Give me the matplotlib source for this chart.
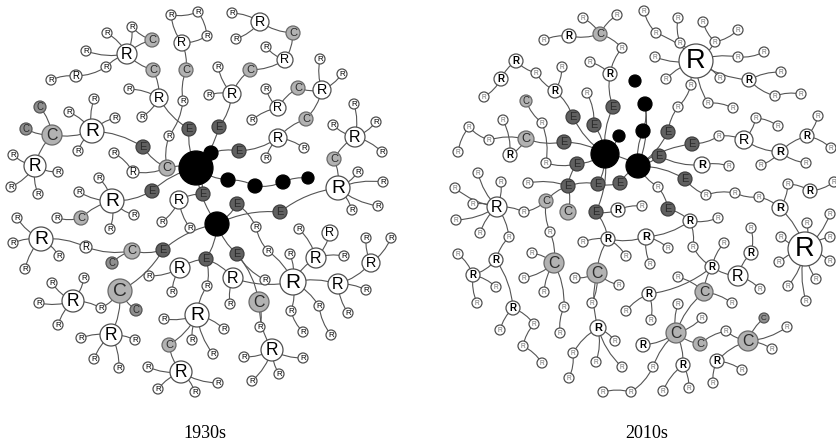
import matplotlib
matplotlib.use('Agg')
import matplotlib.pyplot as plt
from matplotlib import font_manager
from matplotlib.patches import Circle, FancyArrowPatch

# each node: name, kind, radius(px), x, y, parent
# kinds: H = hub (black), E = dark grey, C = light grey, c = small mid grey C, R = white
nodes_1930 = [
    ("H1", "H", 17, 196, 168, None), ("h1", "H", 7, 211, 153, "H1"),
    ("b1", "H", 7, 228, 180, "H1"), ("b2", "H", 7, 255, 186, "b1"),
    ("b3", "H", 7, 283, 182, "b2"), ("b4", "H", 6, 308, 178, "b3"),
    ("H2", "H", 12, 217, 224, "H1"),
    ("e1", "E", 7, 189, 129, "H1"), ("e2", "E", 7, 219, 127, "H1"),
    ("e3", "E", 7, 239, 151, "h1"), ("c1", "C", 8, 167, 168, "H1"),
    ("e4", "E", 7, 143, 147, "c1"), ("e5", "E", 7, 152, 191, "H1"),
    ("e6", "E", 7, 203, 194, "H1"), ("e7", "E", 7, 237, 204, "H2"),
    ("e8", "E", 7, 280, 212, "H2"), ("e9", "E", 7, 163, 250, "H2"),
    ("e10", "E", 7, 206, 259, "H2"), ("e11", "E", 7, 237, 254, "H2"),
    ("r159_98", "R", 9, 159, 98, "e1"), ("r129_89", "R", 5, 129, 89, "r159_98"),
    ("r142_117", "R", 5, 142, 117, "r159_98"), ("c3", "C", 7, 153, 70, "r159_98"),
    ("r127_54", "R", 10, 127, 54, "c3"), ("r132_27", "R", 5, 132, 27, "r127_54"),
    ("c2", "C", 7, 152, 40, "r127_54"), ("r107_33", "R", 5, 107, 33, "r127_54"),
    ("r86_51", "R", 5, 86, 51, "r127_54"), ("r106_67", "R", 5, 106, 67, "r127_54"),
    ("r76_76", "R", 6, 76, 76, "r106_67"), ("r51_80", "R", 5, 51, 80, "r76_76"),
    ("r169_136", "R", 5, 169, 136, "c1"), ("r183_101", "R", 5, 183, 101, "r169_136"),
    ("c4", "C", 7, 186, 70, "r183_101"), ("r182_43", "R", 8, 182, 43, "c4"),
    ("r171_15", "R", 5, 171, 15, "r182_43"), ("r198_12", "R", 5, 198, 12, "r171_15"),
    ("r207_36", "R", 5, 207, 36, "r198_12"),
    ("r232_94", "R", 9, 232, 94, "e2"), ("r218_67", "R", 5, 218, 67, "r232_94"),
    ("r209_95", "R", 5, 209, 95, "r232_94"), ("c5", "C", 7, 250, 70, "r232_94"),
    ("r285_60", "R", 8, 285, 60, "c5"), ("r266_47", "R", 5, 266, 47, "r285_60"),
    ("c6", "C", 7, 293, 33, "r285_60"), ("r260_22", "R", 9, 260, 22, "c6"),
    ("r232_13", "R", 5, 232, 13, "r260_22"), ("r236_39", "R", 5, 236, 39, "r260_22"),
    ("r278_138", "R", 9, 278, 138, "e3"), ("r304_148", "R", 5, 304, 148, "r278_138"),
    ("r266_158", "R", 5, 266, 158, "r278_138"), ("c8", "C", 7, 306, 119, "r278_138"),
    ("r322_90", "R", 9, 322, 90, "c8"), ("r320_59", "R", 5, 320, 59, "r322_90"),
    ("r342_74", "R", 5, 342, 74, "r322_90"), ("c7", "C", 7, 298, 88, "r322_90"),
    ("r278_108", "R", 8, 278, 108, "c7"), ("r266_89", "R", 5, 266, 89, "r278_108"),
    ("r252_120", "R", 5, 252, 120, "r278_108"),
    ("r338_188", "R", 12, 338, 188, "e8"), ("r358_172", "R", 5, 358, 172, "r338_188"),
    ("r383_182", "R", 5, 383, 182, "r338_188"), ("r378_206", "R", 5, 378, 206, "r338_188"),
    ("r352_210", "R", 5, 352, 210, "r338_188"), ("c9", "C", 7, 334, 159, "r338_188"),
    ("r355_137", "R", 10, 355, 137, "c9"), ("r354_104", "R", 5, 354, 104, "r355_137"),
    ("r333_125", "R", 5, 333, 125, "r355_137"), ("r376_122", "R", 5, 376, 122, "r355_137"),
    ("r382_152", "R", 5, 382, 152, "r355_137"),
    ("r92_131", "R", 12, 92, 131, "e4"), ("r94_99", "R", 5, 94, 99, "r92_131"),
    ("r69_112", "R", 5, 69, 112, "r92_131"), ("r115_118", "R", 5, 115, 118, "r92_131"),
    ("r78_151", "R", 5, 78, 151, "r92_131"), ("c10", "C", 10, 52, 135, "r92_131"),
    ("c10a", "c", 6, 40, 107, "c10"), ("c10b", "c", 6, 26, 129, "c10"),
    ("r35_166", "R", 11, 35, 166, "c10"), ("r13_155", "R", 5, 13, 155, "r35_166"),
    ("r58_172", "R", 5, 58, 172, "r35_166"), ("r11_187", "R", 5, 11, 187, "r35_166"),
    ("r38_194", "R", 5, 38, 194, "r35_166"),
    ("r133_172", "R", 6, 133, 172, "c1"), ("r114_153", "R", 5, 114, 153, "r133_172"),
    ("r112_201", "R", 12, 112, 201, "e5"), ("r99_178", "R", 5, 99, 178, "r112_201"),
    ("r79_192", "R", 5, 79, 192, "r112_201"), ("r134_215", "R", 5, 134, 215, "r112_201"),
    ("r110_229", "R", 5, 110, 229, "r112_201"), ("c15", "C", 7, 81, 218, "r112_201"),
    ("r57_218", "R", 5, 57, 218, "c15"),
    ("r179_200", "R", 9, 179, 200, "e6"), ("r162_222", "R", 5, 162, 222, "r179_200"),
    ("r190_228", "R", 5, 190, 228, "r179_200"),
    ("c11", "C", 8, 132, 251, "e9"), ("c11a", "c", 6, 112, 263, "c11"),
    ("r86_247", "R", 6, 86, 247, "c11"), ("r41_239", "R", 12, 41, 239, "r86_247"),
    ("r17_218", "R", 5, 17, 218, "r41_239"), ("r13_243", "R", 5, 13, 243, "r41_239"),
    ("r59_256", "R", 5, 59, 256, "r41_239"), ("r25_269", "R", 5, 25, 269, "r41_239"),
    ("c12", "C", 12, 120, 291, "e9"), ("c12a", "c", 6, 136, 310, "c12"),
    ("r101_308", "R", 5, 101, 308, "c12"), ("r73_301", "R", 11, 73, 301, "r101_308"),
    ("r52_283", "R", 5, 52, 283, "r73_301"), ("r84_278", "R", 5, 84, 278, "r73_301"),
    ("r39_303", "R", 5, 39, 303, "r73_301"), ("r58_325", "R", 5, 58, 325, "r73_301"),
    ("r111_335", "R", 11, 111, 335, "c12"), ("r81_338", "R", 5, 81, 338, "r111_335"),
    ("r135_340", "R", 5, 135, 340, "r111_335"), ("r94_359", "R", 5, 94, 359, "r111_335"),
    ("r119_368", "R", 5, 119, 368, "r111_335"),
    ("r180_268", "R", 10, 180, 268, "e10"), ("r149_276", "R", 5, 149, 276, "r180_268"),
    ("r172_292", "R", 5, 172, 292, "r180_268"), ("r207_286", "R", 5, 207, 286, "e10"),
    ("r197_315", "R", 12, 197, 315, "r207_286"), ("r164_319", "R", 5, 164, 319, "r197_315"),
    ("r192_340", "R", 5, 192, 340, "r197_315"), ("r224_329", "R", 5, 224, 329, "r197_315"),
    ("r213_354", "R", 5, 213, 354, "r197_315"), ("c14", "C", 7, 169, 345, "r197_315"),
    ("r181_372", "R", 11, 181, 372, "c14"), ("r148_367", "R", 5, 148, 367, "r181_372"),
    ("r158_389", "R", 5, 158, 389, "r181_372"), ("r195_392", "R", 5, 195, 392, "r181_372"),
    ("r218_383", "R", 5, 218, 383, "r181_372"),
    ("r233_278", "R", 10, 233, 278, "e10"), ("r230_304", "R", 5, 230, 304, "r233_278"),
    ("c13", "C", 10, 259, 302, "e11"), ("r265_280", "R", 5, 265, 280, "e11"),
    ("r260_327", "R", 5, 260, 327, "c13"), ("r272_350", "R", 11, 272, 350, "c13"),
    ("r244_357", "R", 5, 244, 357, "r272_350"), ("r303_358", "R", 5, 303, 358, "r272_350"),
    ("r252_381", "R", 5, 252, 381, "r272_350"), ("r279_374", "R", 5, 279, 374, "r272_350"),
    ("r256_227", "R", 5, 256, 227, "e7"), ("r268_251", "R", 5, 268, 251, "r256_227"),
    ("r293_282", "R", 13, 293, 282, "r268_251"), ("r290_254", "R", 5, 290, 254, "r293_282"),
    ("r291_311", "R", 5, 291, 311, "r293_282"), ("r303_332", "R", 5, 303, 332, "r291_311"),
    ("r319_306", "R", 5, 319, 306, "r293_282"), ("r331_335", "R", 5, 331, 335, "r319_306"),
    ("r316_258", "R", 10, 316, 258, "r293_282"), ("r299_229", "R", 5, 299, 229, "r316_258"),
    ("r344_256", "R", 5, 344, 256, "r316_258"), ("r330_233", "R", 8, 330, 233, "r316_258"),
    ("r338_284", "R", 10, 338, 284, "r293_282"), ("r371_263", "R", 9, 371, 263, "r338_284"),
    ("r366_238", "R", 5, 366, 238, "r371_263"), ("r391_238", "R", 5, 391, 238, "r371_263"),
    ("r366_290", "R", 5, 366, 290, "r338_284"), ("r348_313", "R", 5, 348, 313, "r338_284"),
]
extra_1930 = [("r233_278", "r293_282"), ("c2", "r132_27"), ("r182_43", "r207_36")]

nodes_2010 = [
    ("HA", "H", 14, 605, 154, None), ("HB", "H", 12, 638, 166, "HA"),
    ("b1", "H", 6, 619, 136, "HA"), ("b2", "H", 7, 643, 131, "HB"),
    ("b3", "H", 7, 645, 104, "b2"), ("b4", "H", 6, 635, 81, None),
    ("e1", "E", 7, 573, 117, "HA"), ("e2", "E", 7, 594, 125, "HA"),
    ("e3", "E", 7, 613, 107, "HA"), ("e4", "E", 7, 564, 142, "HA"),
    ("e5", "E", 7, 577, 164, "HA"), ("e6", "E", 7, 568, 186, "e5"),
    ("e7", "E", 7, 598, 184, "HA"), ("e8", "E", 7, 620, 183, "HB"),
    ("e9", "E", 7, 596, 212, "HA"), ("e10", "E", 7, 668, 132, "HB"),
    ("e11", "E", 7, 692, 144, "HB"), ("e12", "E", 7, 659, 156, "HB"),
    ("e13", "E", 7, 685, 179, "HB"), ("r658_187", "R", 5, 658, 187, "HB"),
    ("e14", "E", 7, 668, 209, "r658_187"),
    ("r555_91", "R", 7, 555, 91, "e1"), ("r536_73", "R", 5, 536, 73, "r555_91"),
    ("r562_67", "R", 5, 562, 67, "r555_91"), ("r516_61", "R", 7, 516, 61, "r536_73"),
    ("r501_79", "R", 7, 501, 79, "r516_61"), ("r484_97", "R", 5, 484, 97, "r501_79"),
    ("r587_93", "R", 5, 587, 93, "e2"), ("r610_74", "R", 7, 610, 74, "e3"),
    ("r590_62", "R", 5, 590, 62, "r610_74"), ("r622_48", "R", 5, 622, 48, "r610_74"),
    ("c1", "C", 7, 600, 34, "r622_48"), ("r617_15", "R", 5, 617, 15, "c1"),
    ("r583_18", "R", 5, 583, 18, "c1"), ("r569_36", "R", 7, 569, 36, "c1"),
    ("r544_40", "R", 5, 544, 40, "r569_36"),
    ("c2", "C", 8, 526, 139, "e4"), ("r489_140", "R", 5, 489, 140, "c2"),
    ("r469_127", "R", 5, 469, 127, "r489_140"), ("r458_152", "R", 5, 458, 152, "r469_127"),
    ("r510_155", "R", 7, 510, 155, "c2"), ("r503_120", "R", 5, 503, 120, "r510_155"),
    ("r546_163", "R", 5, 546, 163, "e5"), ("r542_123", "R", 5, 542, 123, "r546_163"),
    ("c3", "C", 6, 526, 101, "r542_123"),
    ("c4", "C", 7, 546, 201, "e6"), ("c5", "C", 8, 568, 212, "e6"),
    ("r528_183", "R", 5, 528, 183, "e6"), ("r524_212", "R", 5, 524, 212, "c4"),
    ("r497_207", "R", 10, 497, 207, "r524_212"), ("r478_173", "R", 5, 478, 173, "r497_207"),
    ("r501_182", "R", 5, 501, 182, "r497_207"), ("r455_188", "R", 5, 455, 188, "r497_207"),
    ("r473_204", "R", 5, 473, 204, "r497_207"), ("r456_220", "R", 5, 456, 220, "r497_207"),
    ("r480_233", "R", 5, 480, 233, "r497_207"), ("r509_237", "R", 5, 509, 237, "r497_207"),
    ("r496_260", "R", 7, 496, 260, "r509_237"), ("r473_275", "R", 7, 473, 275, "r496_260"),
    ("r458_254", "R", 5, 458, 254, "r473_275"), ("r496_287", "R", 5, 496, 287, "r473_275"),
    ("r477_303", "R", 5, 477, 303, "r473_275"), ("r513_308", "R", 7, 513, 308, "r496_260"),
    ("r500_330", "R", 5, 500, 330, "r513_308"), ("r534_324", "R", 5, 534, 324, "r513_308"),
    ("r523_346", "R", 5, 523, 346, "r534_324"), ("r542_363", "R", 5, 542, 363, "r523_346"),
    ("r550_232", "R", 5, 550, 232, "c4"), ("c6", "C", 10, 554, 263, "r550_232"),
    ("r532_253", "R", 5, 532, 253, "c6"), ("r524_278", "R", 5, 524, 278, "c6"),
    ("r544_292", "R", 5, 544, 292, "c6"), ("r564_307", "R", 5, 564, 307, "c6"),
    ("r560_333", "R", 5, 560, 333, "r564_307"),
    ("r608_239", "R", 7, 608, 239, "e9"), ("r618_210", "R", 7, 618, 210, "e9"),
    ("r642_206", "R", 5, 642, 206, "r618_210"), ("r583_242", "R", 5, 583, 242, "r608_239"),
    ("r626_256", "R", 5, 626, 256, "r608_239"), ("c7", "C", 10, 597, 273, "r608_239"),
    ("r575_278", "R", 5, 575, 278, "c7"), ("r619_285", "R", 5, 619, 285, "c7"),
    ("r592_303", "R", 5, 592, 303, "c7"), ("r598_328", "R", 8, 598, 328, "c7"),
    ("r615_341", "R", 5, 615, 341, "r598_328"), ("r573_353", "R", 5, 573, 353, "r598_328"),
    ("r596_362", "R", 5, 596, 362, "r598_328"), ("r622_367", "R", 5, 622, 367, "r598_328"),
    ("r569_378", "R", 5, 569, 378, "r573_353"),
    ("r646_237", "R", 8, 646, 237, "r608_239"), ("r668_248", "R", 5, 668, 248, "r646_237"),
    ("r650_264", "R", 5, 650, 264, "r646_237"),
    ("r690_221", "R", 7, 690, 221, "e14"), ("r718_218", "R", 5, 718, 218, "r690_221"),
    ("r693_247", "R", 5, 693, 247, "r690_221"), ("r712_267", "R", 7, 712, 267, "r693_247"),
    ("r724_243", "R", 5, 724, 243, "r712_267"), ("r738_276", "R", 10, 738, 276, "r712_267"),
    ("r751_253", "R", 7, 751, 253, "r738_276"), ("r751_228", "R", 5, 751, 228, "r751_253"),
    ("r760_289", "R", 5, 760, 289, "r738_276"),
    ("c8", "C", 9, 704, 292, "r712_267"), ("r732_303", "R", 5, 732, 303, "c8"),
    ("r678_277", "R", 5, 678, 277, "c8"), ("r649_294", "R", 7, 649, 294, "r712_267"),
    ("r626_311", "R", 5, 626, 311, "r649_294"), ("r651_320", "R", 5, 651, 320, "r649_294"),
    ("c9", "C", 10, 676, 333, "c8"), ("r678_304", "R", 5, 678, 304, "c9"),
    ("r702_318", "R", 5, 702, 318, "c9"), ("r643_345", "R", 7, 643, 345, "c9"),
    ("r653_367", "R", 5, 653, 367, "c9"), ("r631_392", "R", 5, 631, 392, "r653_367"),
    ("r603_392", "R", 5, 603, 392, "r631_392"), ("r683_365", "R", 7, 683, 365, "c9"),
    ("r663_391", "R", 5, 663, 391, "r683_365"), ("r689_388", "R", 5, 689, 388, "r683_365"),
    ("c10", "C", 7, 700, 344, "c9"), ("r726_331", "R", 5, 726, 331, "c10"),
    ("c11", "C", 10, 748, 341, "r726_331"), ("c12", "c", 5, 764, 318, "c11"),
    ("r787_327", "R", 5, 787, 327, "c11"), ("r772_349", "R", 5, 772, 349, "c11"),
    ("r717_361", "R", 7, 717, 361, "c11"), ("r742_370", "R", 5, 742, 370, "r717_361"),
    ("r713_383", "R", 5, 713, 383, "r717_361"),
    ("r678_107", "R", 5, 678, 107, "e10"), ("r691_85", "R", 5, 691, 85, "r678_107"),
    ("R696", "R", 17, 696, 61, "r691_85"),
    ("r656_33", "R", 5, 656, 33, "R696"), ("r644_11", "R", 5, 644, 11, "r656_33"),
    ("r680_43", "R", 5, 680, 43, "R696"), ("r678_18", "R", 5, 678, 18, "r680_43"),
    ("r715_42", "R", 5, 715, 42, "R696"), ("r703_22", "R", 5, 703, 22, "r715_42"),
    ("r738_30", "R", 5, 738, 30, "r715_42"), ("r738_57", "R", 5, 738, 57, "R696"),
    ("r764_52", "R", 5, 764, 52, "r738_57"), ("r655_57", "R", 5, 655, 57, "R696"),
    ("r666_79", "R", 5, 666, 79, "R696"), ("r720_78", "R", 5, 720, 78, "R696"),
    ("r749_80", "R", 7, 749, 80, "R696"), ("r781_72", "R", 5, 781, 72, "r749_80"),
    ("r775_96", "R", 5, 775, 96, "r749_80"), ("r801_94", "R", 5, 801, 94, "r775_96"),
    ("r708_103", "R", 5, 708, 103, "R696"), ("r733_108", "R", 5, 733, 108, "r708_103"),
    ("r719_136", "R", 5, 719, 136, "e11"), ("r744_140", "R", 9, 744, 140, "r719_136"),
    ("r756_118", "R", 5, 756, 118, "r744_140"), ("r778_126", "R", 5, 778, 126, "r756_118"),
    ("r780_152", "R", 8, 780, 152, "r744_140"), ("r761_165", "R", 5, 761, 165, "r780_152"),
    ("r806_163", "R", 5, 806, 163, "r780_152"), ("r807_136", "R", 7, 807, 136, "r780_152"),
    ("r818_116", "R", 5, 818, 116, "r807_136"), ("r831_148", "R", 5, 831, 148, "r807_136"),
    ("r702_165", "R", 8, 702, 165, "e12"), ("r729_166", "R", 5, 729, 166, "r702_165"),
    ("r706_195", "R", 5, 706, 195, "e13"), ("r735_193", "R", 5, 735, 193, "r706_195"),
    ("r759_197", "R", 5, 759, 197, "r735_193"), ("r780_208", "R", 8, 780, 208, "r759_197"),
    ("r788_184", "R", 5, 788, 184, "r780_208"), ("r810_191", "R", 7, 810, 191, "r788_184"),
    ("r834_182", "R", 5, 834, 182, "r810_191"),
    ("R805", "R", 17, 805, 249, "r780_208"), ("r807_223", "R", 5, 807, 223, "R805"),
    ("r781_237", "R", 5, 781, 237, "R805"), ("r830_214", "R", 5, 830, 214, "R805"),
    ("r830_237", "R", 5, 830, 237, "R805"), ("r779_262", "R", 5, 779, 262, "R805"),
    ("r830_261", "R", 5, 830, 261, "R805"), ("r816_279", "R", 5, 816, 279, "R805"),
    ("r788_286", "R", 5, 788, 286, "R805"), ("r806_301", "R", 5, 806, 301, "R805"),
]
extra_2010 = [("r646_237", "r690_221"), ("b3", "HB"), ("e7", "e8"), ("e6", "e7")]

labels = ["1930s", "2010s"]
label_x = [205, 647]
label_y = [434, 434]

fill = {"H": "black", "E": "#606060", "C": "#b2b2b2", "c": "#8f8f8f", "R": "white"}
edge_col = {"H": "black", "E": "#404040", "C": "#6a6a6a", "c": "#555555", "R": "#505050"}
text_col = {"E": "#2b2b2b", "C": "#2b2b2b", "c": "#2b2b2b", "R": "black"}


def find_font(stem, fallback, weight='normal'):
    for path in font_manager.findSystemFonts():
        if path.split('/')[-1].startswith(stem):
            return font_manager.FontProperties(fname=path)
    return font_manager.FontProperties(family=fallback, weight=weight)


sans_font = find_font('LiberationSans-Regular', 'sans-serif')
sans_bold = find_font('LiberationSans-Bold.', 'sans-serif', 'bold')
serif_font = find_font('LiberationSerif-Regular', 'serif')

fig = plt.figure(figsize=(8.37, 4.48), dpi=100)
ax = fig.add_axes([0, 0, 1, 1])
ax.set_xlim(0, 837)
ax.set_ylim(448, 0)
ax.axis('off')


def draw_network(rows, extra, later):
    names, kinds, radii, xs, ys, parents = zip(*rows)
    pos = {n: (x, y) for n, x, y in zip(names, xs, ys)}
    links = [(n, p) for n, p in zip(names, parents) if p is not None] + list(extra)
    for i, (a, b) in enumerate(links):
        rad = 0.14 if i % 2 == 0 else -0.14
        ax.add_patch(FancyArrowPatch(pos[a], pos[b], arrowstyle='-',
                                     connectionstyle=f'arc3,rad={rad}',
                                     shrinkA=0, shrinkB=0, color='#555555',
                                     lw=0.8, zorder=1))
    for n, k, r, x, y in zip(names, kinds, radii, xs, ys):
        ax.add_patch(Circle((x, y), r, facecolor=fill[k], edgecolor=edge_col[k],
                            lw=0.9, zorder=2))
        if k == "H":
            continue
        letter = "C" if k == "c" else k
        fs = r * 1.15
        col = text_col[k]
        fp = sans_font
        if later and k == "R" and r <= 5:
            fs = r * 0.95
            col = '#707070'
        elif later and k == "R" and r <= 8:
            fp = sans_bold
            fs = r * 1.0
        ax.text(x, y + 0.3, letter, fontproperties=fp, fontsize=fs, color=col,
                ha='center', va='center', zorder=3)


draw_network(nodes_1930, extra_1930, False)
draw_network(nodes_2010, extra_2010, True)

for t, x, y in zip(labels, label_x, label_y):
    ax.text(x, y, t, fontproperties=serif_font, fontsize=13, ha='center', va='center')

fig.savefig('out.png', dpi=100)
